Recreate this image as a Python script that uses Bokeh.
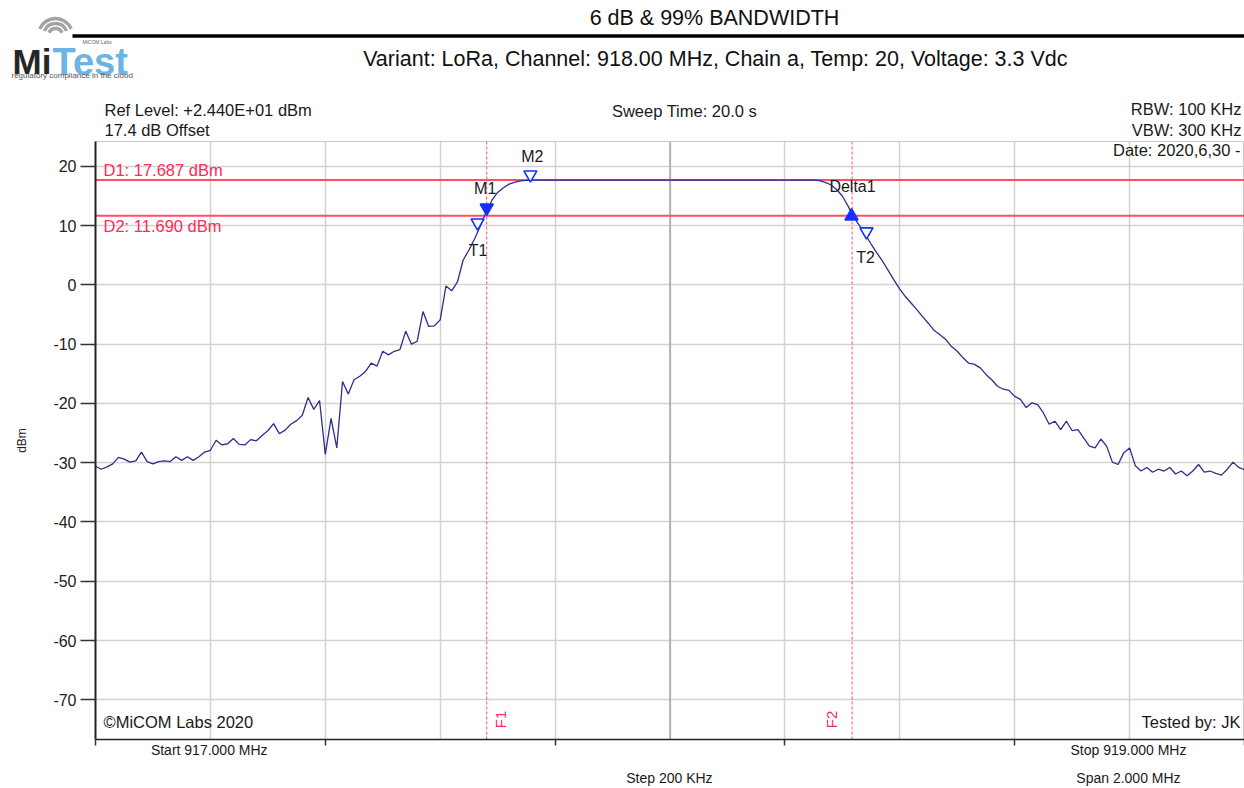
from bokeh.plotting import figure
from bokeh.models import Range1d, Span, Label, FixedTicker, ColumnDataSource, LinearAxis
from bokeh.layouts import column
from bokeh.embed import file_html
from bokeh.resources import INLINE
from bokeh.core.properties import value

FONT = "Liberation Sans"

# ---------------- data ----------------
start_mhz = 917.0
stop_mhz = 919.0
n_points = 201
freq_mhz = [start_mhz + k * (stop_mhz - start_mhz) / (n_points - 1) for k in range(n_points)]

level_left = [
    -30.6, -31.1, -30.7, -30.2, -29.1, -29.4, -29.9, -29.7, -28.2, -29.8,
    -30.2, -29.8, -29.7, -29.8, -29.0, -29.6, -29.0, -29.6, -29.0, -28.2,
    -27.9, -26.2, -27.0, -26.8, -25.9, -26.9, -27.0, -26.1, -26.3, -25.4,
    -24.6, -23.4, -25.1, -24.5, -23.5, -22.9, -22.0, -19.0, -21.0, -19.5,
    -28.6, -22.5, -27.5, -16.3, -18.4, -16.0, -15.4, -14.6, -13.2, -13.7,
    -11.2, -11.8, -11.2, -10.9, -7.8, -10.0, -9.5, -4.5, -7.0, -6.9,
    -5.9, -0.2, -1.0, 0.5, 4.2, 5.9, 7.8, 10.0, 12.3, 14.3,
    15.6, 16.4, 17.0, 17.35, 17.55, 17.65,
]
level_top = [
    17.687, 17.687, 17.687, 17.687, 17.687, 17.687, 17.687, 17.687, 17.687, 17.687,
    17.687, 17.687, 17.687, 17.687, 17.687, 17.687, 17.687, 17.687, 17.687, 17.687,
    17.687, 17.687, 17.687, 17.687, 17.687, 17.687, 17.687, 17.687, 17.687, 17.687,
    17.687, 17.687, 17.687, 17.687, 17.687, 17.687, 17.687, 17.687, 17.687, 17.687,
    17.687, 17.687, 17.687, 17.687, 17.687, 17.687, 17.687, 17.687, 17.687, 17.687,
]
level_right = [
    17.6, 17.3, 16.9, 16.1, 15.0, 13.3, 11.4, 10.0, 8.5, 6.9,
    5.4, 4.0, 2.4, 0.8, -0.7, -2.0, -3.1, -4.2, -5.4, -6.5,
    -7.7, -8.4, -9.2, -10.4, -11.2, -12.3, -13.2, -13.4, -14.0, -15.1,
    -16.0, -17.1, -17.6, -17.8, -18.8, -19.3, -20.7, -19.9, -20.2, -21.6,
    -23.5, -23.0, -24.4, -23.0, -24.6, -24.4, -25.8, -27.2, -27.5, -26.0,
    -27.2, -29.9, -30.3, -28.3, -27.5, -30.5, -31.4, -30.8, -31.6, -31.1,
    -31.4, -30.8, -31.9, -31.4, -32.2, -31.4, -30.3, -31.6, -31.4, -31.8,
    -32.1, -31.1, -29.9, -30.8, -31.2,
]
level_dbm = level_left + level_top + level_right

y_ticks = [-70, -60, -50, -40, -30, -20, -10, 0, 10, 20]
y_tick_labels = ["-70", "-60", "-50", "-40", "-30", "-20", "-10", "0", "10", "20"]
x_ticks = [917.0, 917.4, 917.8, 918.2, 918.6, 919.0]
x_grid = [917.2, 917.4, 917.6, 917.8, 918.0, 918.2, 918.4, 918.6, 918.8]

d1_level = 17.687
d2_level = 11.690
f1_mhz = 917.681
f2_mhz = 918.317

marker_names = ["T1", "M1", "M2", "Delta1", "T2"]
marker_freq = [917.665, 917.681, 917.757, 918.316, 918.342]
marker_level = [10.5, 13.0, 18.6, 11.6, 9.0]
marker_shape = ["inverted_triangle", "inverted_triangle", "inverted_triangle", "triangle", "inverted_triangle"]
marker_fill = ["white", "#1030ff", "white", "#1030ff", "white"]
marker_dx = [0.5, -1.5, 2, 1, -1]
marker_dy = [28, -19.5, -18.5, -29.5, 26]

# bottom information rows (text placed on extra axes)
row1_pos = [917.198, 918.798]
row1_text = ["Start 917.000 MHz", "Stop 919.000 MHz"]
row2_pos = [917.999, 918.798]
row2_text = ["Step 200 KHz", "Span 2.000 MHz"]

# ---------------- geometry ----------------
W, H = 1244, 788
HEAD_H = 141
Y_TOP, Y_BOT = 24.2, -76.7
FR_L, FR_R, FR_T, FR_B = 95, 1244, 141, 740


def fx(px):
    return start_mhz + (px - FR_L) / (FR_R - FR_L) * (stop_mhz - start_mhz)


def fy(py):
    return Y_TOP - (py - FR_T) / (FR_B - FR_T) * (Y_TOP - Y_BOT)


# ---------------- header figure ----------------
hd = figure(width=W, height=HEAD_H, x_range=Range1d(0, W), y_range=Range1d(0, HEAD_H),
            toolbar_location=None, output_backend="svg",
            x_axis_location=None, y_axis_location=None,
            min_border_left=0, min_border_right=0, min_border_top=0, min_border_bottom=0)
hd.frame_align = False
hd.grid.visible = False
hd.outline_line_color = None


def hy(sy):
    return HEAD_H - sy


def hlab(sx, sy, text, align="left", size="16.5px", color="#1a1a1a", style="normal", baseline="middle"):
    hd.add_layout(Label(x=sx, y=hy(sy), text=text, text_align=align, text_baseline=baseline,
                        text_font=FONT, text_font_size=size, text_color=color, text_font_style=style))


hd.segment(x0=[72], y0=[hy(35.5)], x1=[W], y1=[hy(35.5)], line_color="black", line_width=3.5)
hlab(714, 17, "6 dB & 99% BANDWIDTH", align="center", size="21.5px", color="#111111")
hlab(715, 58, "Variant: LoRa, Channel: 918.00 MHz, Chain a, Temp: 20, Voltage: 3.3 Vdc",
     align="center", size="21.5px", color="#111111")
# logo
for r in [7, 12, 17]:
    hd.arc(x=[55], y=[hy(35)], radius=r, start_angle=0.4, end_angle=2.74,
           line_color="#a3a3a3", line_width=3.5, radius_units="screen")
hlab(12, 61, "Mi", size="35px", color="#262626", style="bold", baseline="alphabetic")
hlab(52, 61, "Test", size="38px", color="#6db3e6", style="bold", baseline="alphabetic")
hlab(82, 41, "MiCOM Labs", size="5px", color="#666666")
hlab(11, 75, "regulatory compliance in the cloud", size="8px", color="#555555")
# instrument settings row
hlab(104, 109, "Ref Level: +2.440E+01 dBm")
hlab(104, 129, "17.4 dB Offset")
hlab(684, 110, "Sweep Time: 20.0 s", align="center")
hlab(1241, 108, "RBW: 100 KHz", align="right")
hlab(1241, 129, "VBW: 300 KHz", align="right")

# ---------------- main chart ----------------
p = figure(width=W, height=H - HEAD_H, x_range=Range1d(start_mhz, stop_mhz), y_range=Range1d(Y_BOT, Y_TOP),
           toolbar_location=None, output_backend="svg",
           min_border_left=95, min_border_right=0, min_border_top=0, min_border_bottom=48)
p.frame_align = False
p.outline_line_color = "#c8c8c8"
p.background_fill_color = "white"
p.border_fill_color = "white"

p.xgrid.ticker = FixedTicker(ticks=x_grid)
p.ygrid.ticker = FixedTicker(ticks=y_ticks)
p.grid.grid_line_color = "#d2d2d2"
p.grid.grid_line_width = 1.5

p.yaxis.ticker = FixedTicker(ticks=y_ticks)
p.yaxis.major_label_overrides = dict(zip(y_ticks, y_tick_labels))
p.yaxis.major_tick_out = 15
p.yaxis.major_tick_in = 0
p.yaxis.minor_tick_line_color = None
p.yaxis.axis_line_width = 2
p.yaxis.axis_line_color = "#222222"
p.yaxis.major_tick_line_color = "#333333"
p.yaxis.major_tick_line_width = 1.5
p.yaxis.major_label_text_font = FONT
p.yaxis.major_label_text_font_size = "16px"
p.yaxis.major_label_text_color = "#222222"
p.yaxis.major_label_standoff = 4
p.yaxis.axis_label = "dBm"
p.yaxis.axis_label_text_font = FONT
p.yaxis.axis_label_text_font_size = "12px"
p.yaxis.axis_label_text_font_style = "normal"
p.yaxis.axis_label_text_color = "#222222"
p.yaxis.axis_label_standoff = 21

p.xaxis.ticker = FixedTicker(ticks=x_ticks)
p.xaxis.major_label_overrides = {t: "" for t in x_ticks}
p.xaxis.major_tick_out = 6
p.xaxis.major_tick_in = 0
p.xaxis.minor_tick_line_color = None
p.xaxis.axis_line_width = 1.5
p.xaxis.axis_line_color = "#222222"
p.xaxis.major_tick_line_color = "#333333"
p.xaxis.major_tick_line_width = 1.5
p.xaxis.major_label_text_font_size = "1px"
p.xaxis.major_label_standoff = 0


def text_axis(pos, texts, standoff):
    ax = LinearAxis(ticker=FixedTicker(ticks=pos), major_label_overrides=dict(zip(pos, texts)),
                    axis_line_color=None, major_tick_line_color=None, minor_tick_line_color=None,
                    major_tick_out=0, major_tick_in=0, major_label_standoff=standoff,
                    major_label_text_font=FONT, major_label_text_font_size="14px",
                    major_label_text_color="#1a1a1a")
    p.add_layout(ax, "below")


text_axis(row1_pos, row1_text, -4)
text_axis(row2_pos, row2_text, 9)

RED_LINE = "#ff4d6a"
RED_TEXT = "#ff2a55"

p.add_layout(Span(location=918.0, dimension="height", line_color="#a8a8a8", line_width=1.5, level="underlay"))
p.add_layout(Span(location=d1_level, dimension="width", line_color=RED_LINE, line_width=2, level="underlay"))
p.add_layout(Span(location=d2_level, dimension="width", line_color=RED_LINE, line_width=2, level="underlay"))
p.add_layout(Span(location=f1_mhz, dimension="height", line_color=RED_LINE, line_width=1,
                  line_dash="3 2", level="underlay"))
p.add_layout(Span(location=f2_mhz, dimension="height", line_color=RED_LINE, line_width=1,
                  line_dash="3 2", level="underlay"))

p.line(freq_mhz, level_dbm, line_color="#2e2e8c", line_width=1.3)

msrc = ColumnDataSource(dict(x=marker_freq, y=marker_level, shape=marker_shape, fill=marker_fill,
                             name=marker_names, dx=marker_dx, dy=marker_dy))
p.scatter(x="x", y="y", marker="shape", size=13, fill_color="fill", line_color="#1030ff",
          line_width=1.6, source=msrc)
p.text(x="x", y="y", text="name", x_offset="dx", y_offset="dy", source=msrc,
       text_font=value(FONT), text_font_size="16px", text_color="#1a1a1a",
       text_align="center", text_baseline="middle")


def lab(sx, sy, text, align="left", size="16.5px", color="#1a1a1a", angle=0.0):
    p.add_layout(Label(x=fx(sx), y=fy(sy), text=text, text_align=align, text_baseline="middle",
                       text_font=FONT, text_font_size=size, text_color=color, angle=angle))


lab(1240, 150, "Date: 2020,6,30 -", align="right")
lab(103, 170, "D1: 17.687 dBm", color=RED_TEXT)
lab(103, 226, "D2: 11.690 dBm", color=RED_TEXT)
lab(500, 720, "F1", align="center", size="15px", color=RED_TEXT, angle=1.5708)
lab(831, 720, "F2", align="center", size="15px", color=RED_TEXT, angle=1.5708)
lab(103, 722, "\u00a9MiCOM Labs 2020")
lab(1240, 722, "Tested by: JK", align="right")

layout = column(hd, p, spacing=0)
open("out.html", "w").write(file_html(layout, INLINE))
